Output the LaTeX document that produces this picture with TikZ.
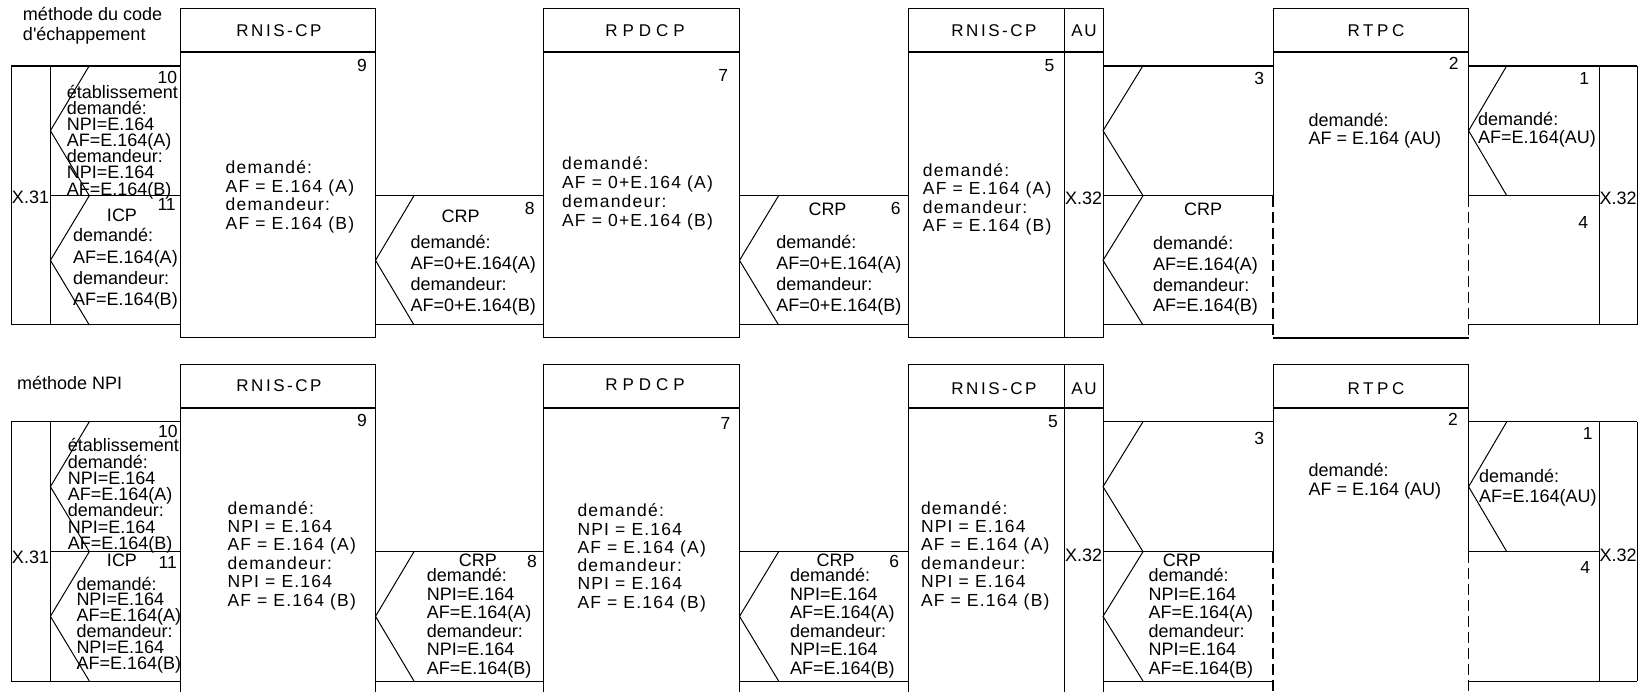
\documentclass[tikz,border=0pt]{standalone}
\usepackage{fontspec}
\newfontfamily\arial{Liberation Sans}
\newfontfamily\arialsp[LetterSpace=7]{Liberation Sans}
\tikzset{
  ln/.style={line width=1pt},
  hv/.style={line width=2pt},
  dsh/.style={line width=1.3pt, dash pattern=on 11pt off 5pt},
  tx/.style={inner sep=0pt, outer sep=0pt, anchor=base west, font=\arial\fontsize{18}{18}\selectfont},
  bx/.style={inner sep=0pt, outer sep=0pt, anchor=base west, font=\arialsp\fontsize{17.5}{17.5}\selectfont},
  nm/.style={inner sep=0pt, outer sep=0pt, anchor=base east, font=\arial\fontsize{17.5}{17.5}\selectfont},
  ctr/.style={inner sep=0pt, outer sep=0pt, anchor=base, font=\arial\fontsize{18}{18}\selectfont},
  ttl/.style={inner sep=0pt, outer sep=0pt, anchor=base, font={\arial\fontsize{17}{17}\selectfont\addfontfeature{LetterSpace=#1}}},
}
% lines of text: name prefix, style, x, first baseline, spacing, list
\newcommand\txtlines[6]{\foreach \t [count=\i from 0] in {#6}{\node[#2] (#1\i) at (#3,{#4+\i*#5}) {\t};}}
% frame of one panel: y offset, box bottom, width of lane top line
\newcommand\panelframe[3]{%
  \pgfmathsetmacro\pBt{8.3+#1}\pgfmathsetmacro\pHd{52.3+#1}%
  \pgfmathsetmacro\pLt{65.7+#1}\pgfmathsetmacro\pLm{195.7+#1}%
  \pgfmathsetmacro\pLb{325+#1}\pgfmathsetmacro\pBb{#2}%
  \pgfmathsetmacro\pMa{(\pLt+\pLm)/2}\pgfmathsetmacro\pMb{(\pLm+\pLb)/2}%
  % boxes
  \draw[ln] (180.5,\pBt) rectangle (375,\pBb);
  \draw[hv] (180.5,\pHd) -- (375,\pHd);
  \draw[ln] (543.6,\pBt) rectangle (739,\pBb);
  \draw[hv] (543.6,\pHd) -- (739,\pHd);
  \draw[ln] (908,\pBt) rectangle (1103,\pBb);
  \draw[ln] (1064,\pBt) -- (1064,\pBb);
  \draw[hv] (908,\pHd) -- (1103,\pHd);
  \draw[ln] (1273,\pLm) -- (1273,\pBt) -- (1468.6,\pBt) -- (1468.6,\pLm);
  \draw[hv] (1273,\pHd) -- (1468.6,\pHd);
  \draw[dsh] (1273,\pLm) -- (1273,\pBb);
  \draw[dsh] (1468.6,\pLm) -- (1468.6,\pBb);
  \draw[hv] (1273,\pBb) -- (1468.6,\pBb);
  % left lane
  \draw[line width=#3] (11.4,\pLt) -- (180.5,\pLt);
  \draw[ln] (11.4,\pLt) -- (11.4,\pLb) -- (180.5,\pLb);
  \draw[ln] (50.4,\pLm) -- (180.5,\pLm);
  \draw[ln] (50.4,\pLt) -- (50.4,\pLb);
  \draw[ln] (89.3,\pLt) -- (50.4,\pMa) -- (89.3,\pLm) -- (50.4,\pMb) -- (89.3,\pLb);
  % CRP lane 1
  \draw[ln] (375,\pLm) -- (543.6,\pLm);
  \draw[ln] (375,\pLb) -- (543.6,\pLb);
  \draw[ln] (414,\pLm) -- (375.5,\pMb) -- (414,\pLb);
  % CRP lane 2
  \draw[ln] (739,\pLm) -- (908,\pLm);
  \draw[ln] (739,\pLb) -- (908,\pLb);
  \draw[ln] (778.6,\pLm) -- (739.5,\pMb) -- (778.6,\pLb);
  % lane 3
  \draw[line width=#3] (1103,\pLt) -- (1273,\pLt);
  \draw[ln] (1103,\pLm) -- (1273,\pLm);
  \draw[ln] (1103,\pLb) -- (1273,\pLb);
  \draw[ln] (1143,\pLt) -- (1103,\pMa) -- (1143,\pLm) -- (1103,\pMb) -- (1143,\pLb);
  % right lane
  \draw[line width=#3] (1468.6,\pLt) -- (1637,\pLt);
  \draw[ln] (1468.6,\pLm) -- (1599,\pLm);
  \draw[ln] (1468.6,\pLb) -- (1637,\pLb);
  \draw[ln] (1599,\pLt) -- (1599,\pLb);
  \draw[ln] (1637,\pLt) -- (1637,\pLb);
  \draw[ln] (1506.8,\pLt) -- (1468.6,\pMa) -- (1506.8,\pLm);
}
\begin{document}
\begin{tikzpicture}[x=1pt,y=-1pt]
\fill[white] (0,0) rectangle (1639,692);
\clip (0,0) rectangle (1639,692);

%================ TOP PANEL ================
\panelframe{0}{338}{1.8pt}
\node[tx] (ma1) at (23,21) {méthode du code};
\node[tx] (ma2) at (23,41) {d'échappement};
\node[ttl=15] (ta1) at (279,36.5) {RNIS-CP};
\node[ttl=29] (ta2) at (645,36.5) {RPDCP};
\node[ttl=15] (ta3) at (994,36.5) {RNIS-CP};
\node[ttl=9] (ta4) at (1084,36.5) {AU};
\node[ttl=21] (ta5) at (1376,36.5) {RTPC};
\node[nm] (na10) at (177,83.5) {10};
\node[nm] (na9) at (366.8,71.7) {9};
\node[nm] (na11) at (175.7,210.7) {11};
\node[nm] (na8) at (534.6,215) {8};
\node[nm] (na7) at (728.2,81.7) {7};
\node[nm] (na6) at (900.7,215) {6};
\node[nm] (na5) at (1054.3,71.7) {5};
\node[nm] (na3) at (1264,85) {3};
\node[nm] (na2) at (1458.6,70) {2};
\node[nm] (na1) at (1589,85) {1};
\node[nm] (na4) at (1588,228.3) {4};
\txtlines{aL}{tx}{66.8}{98.5}{16.1}{établissement, demandé:, NPI=E.164, AF=E.164(A), demandeur:, NPI=E.164, AF=E.164(B)}
\node[ctr] (aicp) at (122,221.7) {ICP};
\txtlines{aI}{tx}{73.2}{242}{21.2}{demandé:, AF=E.164(A), demandeur:, AF=E.164(B)}
\node[tx] (ax31) at (12,204) {X.31};
\txtlines{aB}{bx}{225.7}{173.5}{18.7}{demandé:, AF = E.164 (A), demandeur:, AF = E.164 (B)}
\node[ctr] (acrp1) at (460.7,222.7) {CRP};
\txtlines{aC}{tx}{410.7}{248.5}{21.1}{demandé:, AF=0+E.164(A), demandeur:, AF=0+E.164(B)}
\txtlines{aP}{bx}{562.1}{170}{18.7}{demandé:, AF = 0+E.164 (A), demandeur:, AF = 0+E.164 (B)}
\node[ctr] (acrp2) at (827.5,216) {CRP};
\txtlines{aD}{tx}{776.4}{248.5}{21.1}{demandé:, AF=0+E.164(A), demandeur:, AF=0+E.164(B)}
\txtlines{aR}{bx}{922.9}{176.7}{18.3}{demandé:, AF = E.164 (A), demandeur:, AF = E.164 (B)}
\node[tx] (ax32a) at (1065,205) {X.32};
\node[ctr] (acrp3) at (1203.2,216) {CRP};
\txtlines{aE}{tx}{1153.2}{250}{20.6}{demandé:, AF=E.164(A), demandeur:, AF=E.164(B)}
\txtlines{aT}{tx}{1308.6}{126.7}{17.5}{demandé:, AF = E.164 (AU)}
\txtlines{aU}{tx}{1478.2}{126}{18}{demandé:, AF=E.164(AU)}
\node[tx] (ax32b) at (1599.6,205) {X.32};

%================ BOTTOM PANEL ================
\panelframe{356}{720}{1.3pt}
\node[tx] (mb1) at (17.1,390) {méthode NPI};
\node[ttl=15] (tb1) at (279,391.5) {RNIS-CP};
\node[ttl=29] (tb2) at (645,391) {RPDCP};
\node[ttl=15] (tb3) at (994,395) {RNIS-CP};
\node[ttl=9] (tb4) at (1084,395) {AU};
\node[ttl=21] (tb5) at (1376,395) {RTPC};
\node[nm] (nb9) at (366.8,426.7) {9};
\node[nm] (nb10) at (177.5,437.3) {10};
\node[nm] (nb11) at (176.8,568.3) {11};
\node[nm] (nb8) at (536.8,567.3) {8};
\node[nm] (nb7) at (730.4,429.3) {7};
\node[nm] (nb6) at (899,567.3) {6};
\node[nm] (nb5) at (1057.9,427.3) {5};
\node[nm] (nb3) at (1264,445) {3};
\node[nm] (nb2) at (1457.9,426) {2};
\node[nm] (nb1) at (1592.5,440) {1};
\node[nm] (nb4) at (1590,573.3) {4};
\txtlines{bL}{tx}{67.9}{451.7}{16.3}{établissement, demandé:, NPI=E.164, AF=E.164(A), demandeur:, NPI=E.164, AF=E.164(B)}
\node[ctr] (bicp) at (122,566.7) {ICP};
\txtlines{bI}{tx}{76.5}{590}{15.9}{demandé:, NPI=E.164, AF=E.164(A), demandeur:, NPI=E.164, AF=E.164(B)}
\node[tx] (bx31) at (12,563.3) {X.31};
\txtlines{bB}{bx}{227.5}{514}{18.4}{demandé:, NPI = E.164, AF = E.164 (A), demandeur:, NPI = E.164, AF = E.164 (B)}
\node[ctr] (bcrp1) at (477.9,566.7) {CRP};
\txtlines{bC}{tx}{426.8}{581.7}{18.5}{demandé:, NPI=E.164, AF=E.164(A), demandeur:, NPI=E.164, AF=E.164(B)}
\txtlines{bP}{bx}{577.5}{516.7}{18.3}{demandé:, NPI = E.164, AF = E.164 (A), demandeur:, NPI = E.164, AF = E.164 (B)}
\node[ctr] (bcrp2) at (835.7,566.7) {CRP};
\txtlines{bD}{tx}{790}{581.7}{18.5}{demandé:, NPI=E.164, AF=E.164(A), demandeur:, NPI=E.164, AF=E.164(B)}
\txtlines{bR}{bx}{921}{514}{18.4}{demandé:, NPI = E.164, AF = E.164 (A), demandeur:, NPI = E.164, AF = E.164 (B)}
\node[tx] (bx32a) at (1065,561.7) {X.32};
\node[ctr] (bcrp3) at (1181.8,566.7) {CRP};
\txtlines{bE}{tx}{1148.6}{581.7}{18.5}{demandé:, NPI=E.164, AF=E.164(A), demandeur:, NPI=E.164, AF=E.164(B)}
\txtlines{bT}{tx}{1308.6}{476}{19}{demandé:, AF = E.164 (AU)}
\txtlines{bU}{tx}{1479}{482.7}{20}{demandé:, AF=E.164(AU)}
\node[tx] (bx32b) at (1599.6,561.7) {X.32};
\end{tikzpicture}
\end{document}
